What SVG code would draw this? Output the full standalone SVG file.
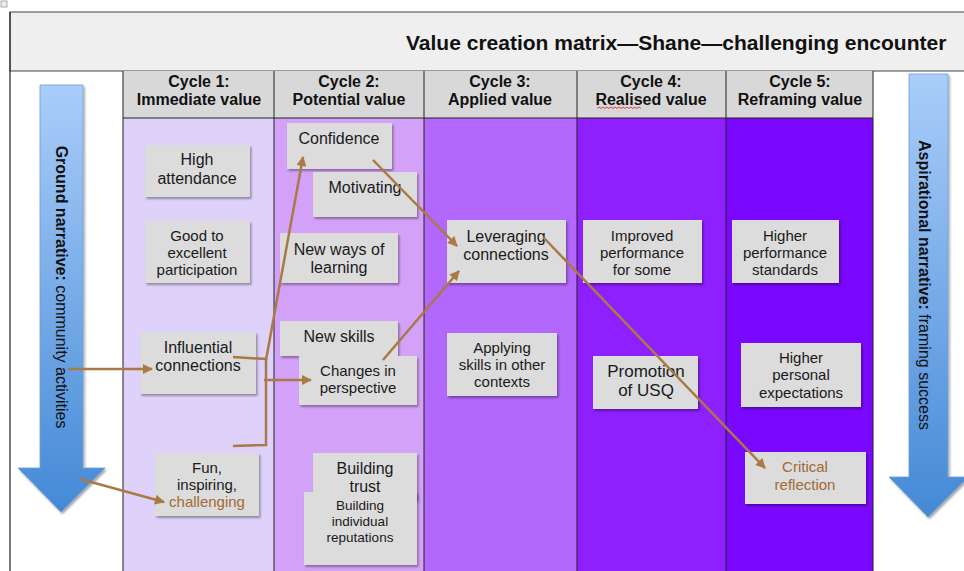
<svg xmlns="http://www.w3.org/2000/svg" width="964" height="571" viewBox="0 0 964 571">
<style>
.box{fill:#dcdcdc;filter:url(#sh)}
.t{font-family:"Liberation Sans",Arial,sans-serif;font-size:16px;fill:#1a1a1a;text-anchor:middle}
.s15{font-size:15px}
.s13{font-size:13.5px}
.s17{font-size:17px}
.br{fill:#a26a35}
.hd{font-family:"Liberation Sans",Arial,sans-serif;font-size:16px;font-weight:bold;fill:#111;text-anchor:middle}
.con{fill:none;stroke:#a97a44;stroke-width:2.5}
.arr{marker-end:url(#ah)}
.col{stroke:#222;stroke-width:1}
</style>
<defs>
<filter id="sh" x="-10%" y="-10%" width="130%" height="130%">
<feDropShadow dx="1.5" dy="2" stdDeviation="1" flood-color="#000" flood-opacity="0.35"/>
</filter>
<linearGradient id="bl" x1="0" y1="0" x2="0" y2="1">
<stop offset="0" stop-color="#aacdf9"/>
<stop offset="1" stop-color="#4489d6"/>
</linearGradient>
<marker id="ah" viewBox="0 0 10 10" refX="9" refY="5" markerWidth="11" markerHeight="10" markerUnits="userSpaceOnUse" orient="auto">
<path d="M0,0 L10,5 L0,10 z" fill="#a97a44"/>
</marker>
</defs>
<rect width="964" height="571" fill="#fff"/>
<rect x="1" y="1" width="6" height="6" fill="#eee" stroke="#999" stroke-width="0.8"/>
<g id="title">
<rect x="10" y="12" width="960" height="59" fill="#efefef" stroke="#444" stroke-width="1"/>
<text x="406" y="50" font-family="Liberation Sans,Arial,sans-serif" font-size="21" font-weight="bold" fill="#111">Value creation matrix—Shane—challenging encounter</text>
</g>
<line x1="10" y1="12" x2="10" y2="571" stroke="#222" stroke-width="1.2"/>
<g id="columns">
<rect x="123" y="118" width="151" height="453" fill="#ded2fb"/>
<rect x="274" y="118" width="150" height="453" fill="#d4a1f8"/>
<rect x="424" y="118" width="153" height="453" fill="#b267fd"/>
<rect x="577" y="118" width="149" height="453" fill="#8e1fff"/>
<rect x="726" y="118" width="147" height="453" fill="#7a08fe"/>
<rect x="123" y="71" width="750" height="47" fill="#d8d8d8"/>
<line class="col" x1="123" y1="118" x2="873" y2="118"/>
<line class="col" x1="123" y1="71" x2="123" y2="571"/>
<line class="col" x1="274" y1="71" x2="274" y2="571"/>
<line class="col" x1="424" y1="71" x2="424" y2="571"/>
<line class="col" x1="577" y1="71" x2="577" y2="571"/>
<line class="col" x1="726" y1="71" x2="726" y2="571"/>
<line class="col" x1="873" y1="71" x2="873" y2="571"/>
<text class="hd" x="199" y="87">Cycle 1:</text><text class="hd" x="199" y="105">Immediate value</text>
<text class="hd" x="349" y="87">Cycle 2:</text><text class="hd" x="349" y="105">Potential value</text>
<text class="hd" x="500" y="87">Cycle 3:</text><text class="hd" x="500" y="105">Applied value</text>
<text class="hd" x="651" y="87">Cycle 4:</text><text class="hd" x="651" y="105">Realised value</text>
<path d="M597,108.5 l2,-1.5 l2,1.5 l2,-1.5 l2,1.5 l2,-1.5 l2,1.5 l2,-1.5 l2,1.5 l2,-1.5 l2,1.5 l2,-1.5 l2,1.5 l2,-1.5 l2,1.5 l2,-1.5 l2,1.5 l2,-1.5 l2,1.5 l2,-1.5 l2,1.5 l2,-1.5 l2,1.5" fill="none" stroke="#d22" stroke-width="0.8"/>
<text class="hd" x="800" y="87">Cycle 5:</text><text class="hd" x="800" y="105">Reframing value</text>
</g>
<g id="ground-narrative">
<path d="M40,85 H83 V468 H105 L61,512 L18,468 H40 Z" fill="url(#bl)" stroke="#6d9fd6" stroke-width="0.8" filter="url(#sh)"/>
<text transform="translate(56,287) rotate(90)" font-family="Liberation Sans,Arial,sans-serif" font-size="16" fill="#111" text-anchor="middle"><tspan font-weight="bold">Ground narrative:</tspan> community activities</text>
</g>
<g id="aspirational-narrative">
<path d="M909,74 H948 V477 H968 L928,517 L889,477 H909 Z" fill="url(#bl)" stroke="#6d9fd6" stroke-width="0.8" filter="url(#sh)"/>
<text transform="translate(919,285) rotate(90)" font-family="Liberation Sans,Arial,sans-serif" font-size="16" fill="#111" text-anchor="middle"><tspan font-weight="bold">Aspirational narrative:</tspan> framing success</text>
</g>
<g id="n-high-attendance"><rect class="box" x="145" y="145" width="105" height="52"/><text class="t" x="197" y="165">High</text><text class="t" x="197" y="184">attendance</text></g>
<g id="n-participation"><rect class="box" x="145" y="221" width="105" height="62"/><text class="t s15" x="197" y="241">Good to</text><text class="t s15" x="197" y="258">excellent</text><text class="t s15" x="197" y="275">participation</text></g>
<g id="n-influential"><rect class="box" x="140" y="332" width="116" height="62"/><text class="t" x="198" y="353">Influential</text><text class="t" x="198" y="371">connections</text></g>
<g id="n-fun"><rect class="box" x="155" y="453" width="104" height="63"/><text class="t s15" x="207" y="473">Fun,</text><text class="t s15" x="207" y="490">inspiring,</text><text class="t s15 br" x="207" y="507">challenging</text></g>
<g id="n-confidence"><rect class="box" x="287" y="123" width="105" height="46"/><text class="t" x="339" y="144">Confidence</text></g>
<g id="n-motivating"><rect class="box" x="313" y="172" width="104" height="45"/><text class="t" x="365" y="193">Motivating</text></g>
<g id="n-new-ways"><rect class="box" x="280" y="233" width="118" height="50"/><text class="t" x="339" y="255">New ways of</text><text class="t" x="339" y="273">learning</text></g>
<g id="n-new-skills"><rect class="box" x="280" y="321" width="118" height="35"/><text class="t" x="339" y="342">New skills</text></g>
<g id="n-changes"><rect class="box" x="299" y="356" width="118" height="49"/><text class="t s15" x="358" y="376">Changes in</text><text class="t s15" x="358" y="393">perspective</text></g>
<g id="n-building-trust"><rect class="box" x="313" y="453" width="104" height="47"/><text class="t" x="365" y="474">Building</text><text class="t" x="365" y="492">trust</text></g>
<g id="n-reputations"><rect class="box" x="304" y="492" width="113" height="73"/><text class="t s13" x="360" y="510">Building</text><text class="t s13" x="360" y="526">individual</text><text class="t s13" x="360" y="542">reputations</text></g>
<g id="n-leveraging"><rect class="box" x="447" y="220" width="119" height="63"/><text class="t" x="506" y="242">Leveraging</text><text class="t" x="506" y="260">connections</text></g>
<g id="n-applying"><rect class="box" x="447" y="333" width="110" height="63"/><text class="t s15" x="502" y="353">Applying</text><text class="t s15" x="502" y="370">skills in other</text><text class="t s15" x="502" y="387">contexts</text></g>
<g id="n-improved"><rect class="box" x="583" y="220" width="119" height="63"/><text class="t s15" x="642" y="241">Improved</text><text class="t s15" x="642" y="258">performance</text><text class="t s15" x="642" y="275">for some</text></g>
<g id="n-promotion"><rect class="box" x="593" y="356" width="105" height="53"/><text class="t s17" x="646" y="377">Promotion</text><text class="t s17" x="646" y="396">of USQ</text></g>
<g id="n-higher-standards"><rect class="box" x="732" y="220" width="107" height="63"/><text class="t s15" x="785" y="241">Higher</text><text class="t s15" x="785" y="258">performance</text><text class="t s15" x="785" y="275">standards</text></g>
<g id="n-higher-expectations"><rect class="box" x="741" y="343" width="120" height="64"/><text class="t s15" x="801" y="363">Higher</text><text class="t s15" x="801" y="380">personal</text><text class="t s15" x="801" y="398">expectations</text></g>
<g id="n-critical"><rect class="box" x="745" y="452" width="121" height="52"/><text class="t s15 br" x="805" y="472">Critical</text><text class="t s15 br" x="805" y="490">reflection</text></g>
<g id="connectors">
<path class="con arr" d="M68,369 L152,369"/>
<path class="con arr" d="M80,479 L164,502"/>
<path class="con" d="M233,357 L266,359 L266,445 L233,446"/>
<path class="con arr" d="M264,380 L311,380"/>
<path class="con arr" d="M266,360 L303,157"/>
<path class="con arr" d="M383,360 L459,271"/>
<path class="con arr" d="M373,160 L457,246"/>
<path class="con arr" d="M543,237 L765,468"/>
</g>
</svg>
